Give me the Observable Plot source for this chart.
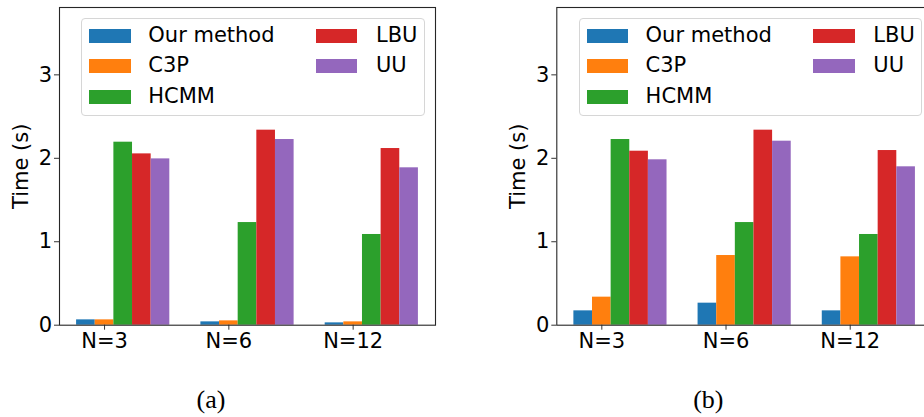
<!DOCTYPE html>
<html>
<head>
<meta charset="utf-8">
<script src="https://cdn.jsdelivr.net/npm/d3@7"></script>
<script src="https://cdn.jsdelivr.net/npm/@observablehq/plot@0.6"></script>
<style>
  html, body { margin: 0; padding: 0; background: #fff; }
  body { width: 924px; height: 417px; overflow: hidden; position: relative; font-family: "DejaVu Sans", sans-serif; }
  .panel { position: absolute; top: 0; }
  .legend { position: absolute; box-sizing: border-box; border: 1px solid #d6d6d6; border-radius: 4px; background: #fff; }
  .legend .sw { position: absolute; }
  .legend .lb { position: absolute; font-size: 21px; line-height: 21px; color: #000; white-space: nowrap; }
  .caption { position: absolute; font-family: "Liberation Serif", "Times New Roman", serif; font-size: 26px; line-height: 26px; transform: translate(-50%, -50%); color: #000; }
</style>
</head>
<body>
<script>
// ---- data ----
const groups = ["N=3", "N=6", "N=12"];
const methods = ["Our method", "C3P", "HCMM", "LBU", "UU"];
const colors = ["#1f77b4", "#ff7f0e", "#2ca02c", "#d62728", "#9467bd"];

const aOur  = [0.064, 0.040, 0.028];
const aC3P  = [0.064, 0.052, 0.040];
const aHCMM = [2.193, 1.230, 1.087];
const aLBU  = [2.053, 2.337, 2.117];
const aUU   = [1.993, 2.225, 1.886];

const bOur  = [0.172, 0.264, 0.172];
const bC3P  = [0.336, 0.835, 0.819];
const bHCMM = [2.225, 1.230, 1.087];
const bLBU  = [2.085, 2.337, 2.093];
const bUU   = [1.982, 2.205, 1.898];

const yTicks = [0, 1, 2, 3];
const yTickLabels = ["0", "1", "2", "3"];
const captions = ["(a)", "(b)"];
const yLabel = "Time (s)";

// ---- layout ----
const barW = 0.15;
const xDomain = [-0.2125, 2.8125];
const yDomain = [0, 3.807];
const svgH = 360, mTop = 7, mBottom = 35.3;

function makeRows(series) {
  const rows = [];
  series.forEach((vals, j) => {
    vals.forEach((v, i) => {
      rows.push({group: i, method: methods[j], j, value: v});
    });
  });
  return rows;
}

function panel({series, left, width, mLeft, mRight, caption}) {
  const div = document.createElement("div");
  div.className = "panel";
  div.style.left = left + "px";
  div.style.width = width + "px";
  div.style.height = "417px";
  document.body.appendChild(div);

  const rows = makeRows(series);
  const tickPos = groups.map((g, i) => i + barW);

  const chart = Plot.plot({
    width, height: svgH,
    marginLeft: mLeft, marginRight: mRight, marginTop: mTop, marginBottom: mBottom,
    style: {fontFamily: "DejaVu Sans", fontSize: "21px", color: "#000", background: "transparent", overflow: "visible"},
    x: {type: "linear", domain: xDomain},
    y: {domain: yDomain},
    color: {domain: methods, range: colors},
    marks: [
      Plot.rect(rows, {
        x1: d => d.group + d.j * barW - barW / 2,
        x2: d => d.group + d.j * barW + barW / 2,
        y1: 0,
        y2: "value",
        fill: "method"
      }),
      Plot.axisY({ticks: yTicks, tickFormat: d => yTickLabels[yTicks.indexOf(d)], tickSize: 5, tickPadding: 2.5, fontSize: 21, label: null, stroke: "#333"}),
      Plot.axisX({ticks: tickPos, tickFormat: d => groups[Math.round(d - barW)], tickSize: 5, tickPadding: 3.3, fontSize: 21, label: null, stroke: "#333"}),
      Plot.text([yLabel], {text: d => d, frameAnchor: "left", rotate: -90, dx: -38.5, fontSize: 21, lineAnchor: "middle", textAnchor: "middle"}),
      Plot.frame({stroke: "#262626", strokeWidth: 1.1})
    ]
  });
  div.appendChild(chart);

  // legend (inside axes, upper area)
  const lg = document.createElement("div");
  lg.className = "legend";
  const boxLeft = mLeft + 22.3, boxTop = 18.3;
  lg.style.left = boxLeft + "px";
  lg.style.top = boxTop + "px";
  lg.style.width = "343.7px";
  lg.style.height = "97.4px";
  const rowC = [16.5, 47, 77.9];
  const colSw = [7, 233.4], colTx = [66, 293.7];
  methods.forEach((m, k) => {
    const col = k < 3 ? 0 : 1, row = k < 3 ? k : k - 3;
    const sw = document.createElement("div");
    sw.className = "sw";
    sw.style.left = colSw[col] + "px";
    sw.style.top = (rowC[row] - 7.2) + "px";
    sw.style.width = "41.7px";
    sw.style.height = "14.4px";
    sw.style.background = colors[k];
    lg.appendChild(sw);
    const tx = document.createElement("div");
    tx.className = "lb";
    tx.style.left = colTx[col] + "px";
    tx.style.top = (rowC[row] - 11) + "px";
    tx.textContent = m;
    lg.appendChild(tx);
  });
  div.appendChild(lg);

  const cap = document.createElement("div");
  cap.className = "caption";
  cap.style.left = (mLeft + 152) + "px";
  cap.style.top = "400px";
  cap.textContent = caption;
  div.appendChild(cap);
}

panel({series: [aOur, aC3P, aHCMM, aLBU, aUU], left: 0, width: 460, mLeft: 59, mRight: 25, caption: captions[0]});
panel({series: [bOur, bC3P, bHCMM, bLBU, bUU], left: 460, width: 480, mLeft: 96.3, mRight: 8, caption: captions[1]});
</script>
</body>
</html>
